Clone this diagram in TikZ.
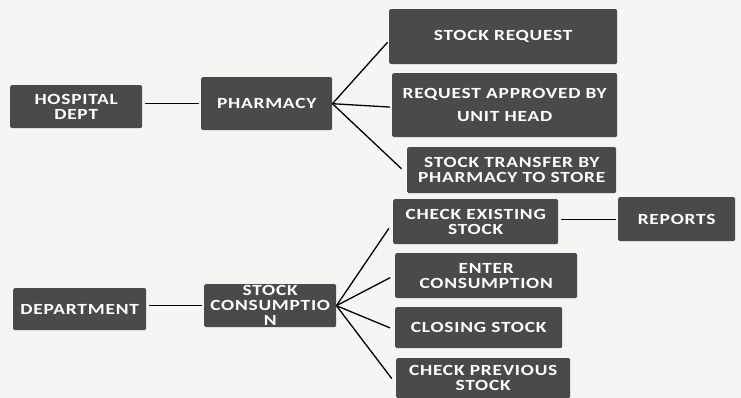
\documentclass[tikz,border=0pt]{standalone}
\usepackage{fontspec}
\setmainfont{Carlito}
\newfontfamily\boxfont[FakeStretch=1.25, LetterSpace=5]{Carlito}
\definecolor{boxgray}{HTML}{4A4A4A}
\definecolor{bgcol}{HTML}{F5F5F3}
\begin{document}
\begin{tikzpicture}[x=1pt,y=-1pt,
  box/.style={fill=boxgray, rounded corners=1.5pt, text=white, font=\boxfont\bfseries\fontsize{15.5}{15}\selectfont, align=center, inner sep=0pt, anchor=north west},
  link/.style={draw=black, line width=1.3pt, shorten >=2pt}]
\fill[bgcol] (0,0) rectangle (741,398);
\useasboundingbox (0,0) rectangle (741,398);
% top branch
\node[box, minimum width=132, minimum height=43] (hosp) at (10,85) {HOSPITAL\\DEPT};
\node[box, minimum width=131, minimum height=53] (pharm) at (201,77) {PHARMACY};
\node[box, minimum width=228, minimum height=55] (sreq) at (389,9) {STOCK REQUEST};
\node[box, minimum width=225, minimum height=64] (appr) at (392,73) {REQUEST APPROVED BY\\[8pt]UNIT HEAD};
\node[box, minimum width=209, minimum height=46] (trans) at (407,147) {STOCK TRANSFER BY\\PHARMACY TO STORE};
% bottom branch
\node[box, minimum width=133, minimum height=42] (dept) at (13,288) {DEPARTMENT};
\node[box, minimum width=132, minimum height=43] (cons) at (204,284) {STOCK\\CONSUMPTIO\\N};
\node[box, minimum width=165, minimum height=45] (exist) at (393,199) {CHECK EXISTING\\STOCK};
\node[box, minimum width=117, minimum height=44] (rep) at (618,197) {REPORTS};
\node[box, minimum width=182, minimum height=45] (enter) at (395,253) {ENTER\\CONSUMPTION};
\node[box, minimum width=167, minimum height=41] (close) at (395,307) {CLOSING STOCK};
\node[box, minimum width=174, minimum height=40] (prev) at (396,358) {CHECK PREVIOUS\\STOCK};
% connectors
\draw[link, shorten <=3pt] (hosp.east |- pharm.west) -- (pharm.west);
\draw[link] (pharm.east) -- ([yshift=-4pt]sreq.west);
\draw[link] (pharm.east) -- ([yshift=-2pt]appr.west);
\draw[link] (pharm.east) -- ([xshift=-4pt]trans.west);
\draw[link, shorten <=3pt] (dept.east |- cons.west) -- (cons.west);
\draw[link, shorten <=3pt] (exist.east |- rep.west) -- (rep.west);
\draw[link] (cons.east) -- ([xshift=-3pt,yshift=-5pt]exist.west);
\draw[link] (cons.east) -- ([xshift=-3pt,yshift=-1pt]enter.west);
\draw[link] (cons.east) -- ([xshift=-3pt,yshift=-1pt]close.west);
\draw[link] (cons.east) -- ([xshift=-3pt,yshift=-2pt]prev.west);
\end{tikzpicture}
\end{document}
